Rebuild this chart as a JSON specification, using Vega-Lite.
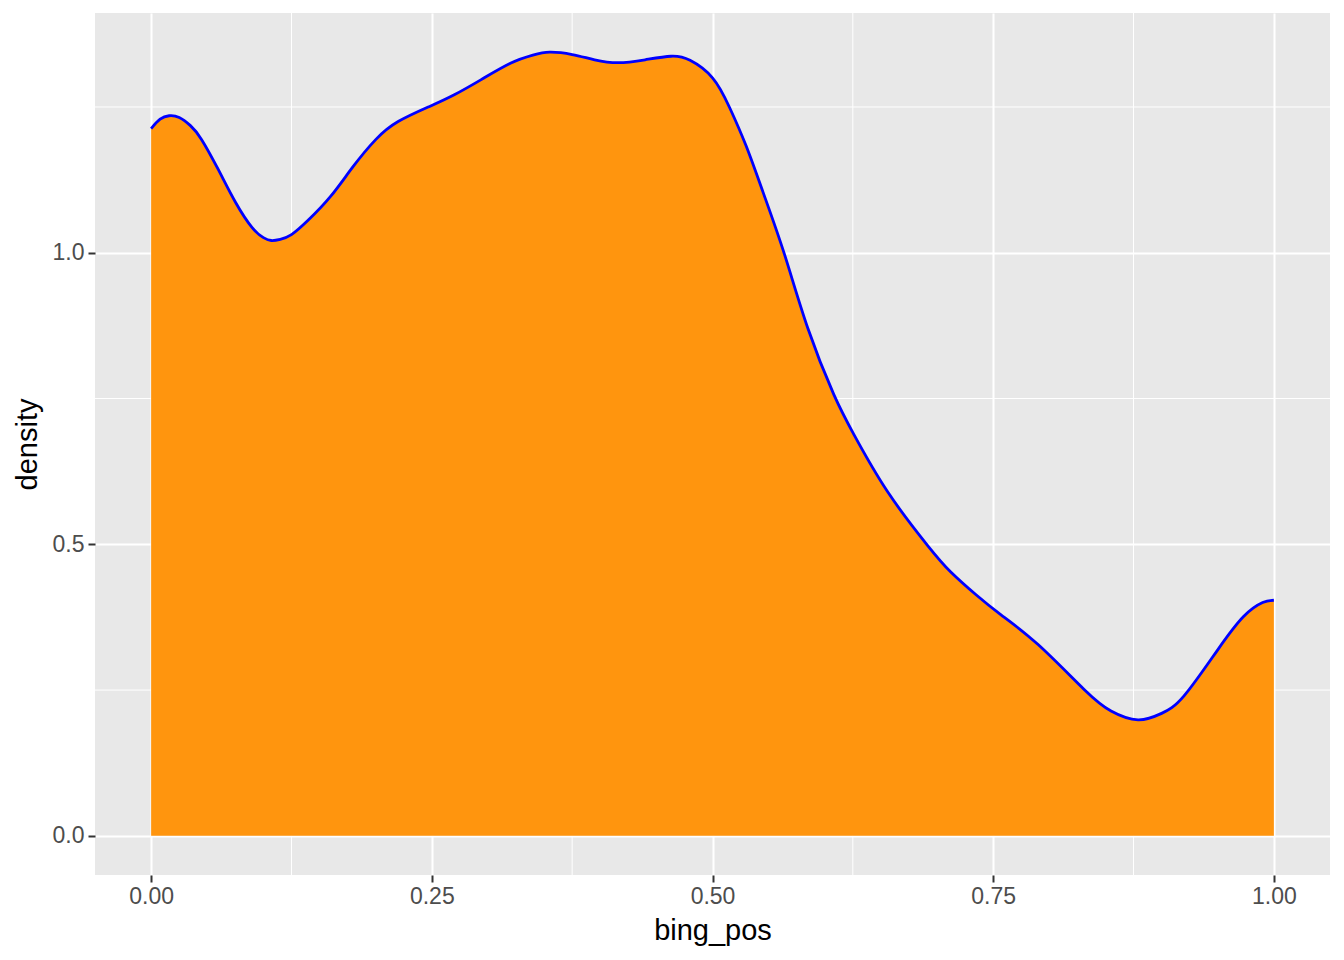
{
  "$schema": "https://vega.github.io/schema/vega-lite/v6.json",
  "autosize": {"type": "none"},
  "padding": {"left": 95, "top": 13, "right": 14, "bottom": 85},
  "width": 1235,
  "height": 862,
  "background": "white",
  "datasets": {
    "dens": [
      {"bing_pos": 0.000, "density": 1.213},
      {"bing_pos": 0.008, "density": 1.229},
      {"bing_pos": 0.016, "density": 1.235},
      {"bing_pos": 0.025, "density": 1.232},
      {"bing_pos": 0.035, "density": 1.218},
      {"bing_pos": 0.045, "density": 1.194},
      {"bing_pos": 0.060, "density": 1.142},
      {"bing_pos": 0.075, "density": 1.087},
      {"bing_pos": 0.090, "density": 1.043},
      {"bing_pos": 0.100, "density": 1.026},
      {"bing_pos": 0.107, "density": 1.021},
      {"bing_pos": 0.115, "density": 1.023},
      {"bing_pos": 0.125, "density": 1.031},
      {"bing_pos": 0.140, "density": 1.056},
      {"bing_pos": 0.160, "density": 1.097},
      {"bing_pos": 0.180, "density": 1.148},
      {"bing_pos": 0.200, "density": 1.194},
      {"bing_pos": 0.220, "density": 1.225},
      {"bing_pos": 0.248, "density": 1.251},
      {"bing_pos": 0.270, "density": 1.271},
      {"bing_pos": 0.294, "density": 1.297},
      {"bing_pos": 0.320, "density": 1.325},
      {"bing_pos": 0.340, "density": 1.339},
      {"bing_pos": 0.355, "density": 1.344},
      {"bing_pos": 0.375, "density": 1.340},
      {"bing_pos": 0.395, "density": 1.331},
      {"bing_pos": 0.416, "density": 1.326},
      {"bing_pos": 0.440, "density": 1.331},
      {"bing_pos": 0.463, "density": 1.337},
      {"bing_pos": 0.480, "density": 1.330},
      {"bing_pos": 0.500, "density": 1.300},
      {"bing_pos": 0.515, "density": 1.250},
      {"bing_pos": 0.530, "density": 1.183},
      {"bing_pos": 0.545, "density": 1.104},
      {"bing_pos": 0.564, "density": 0.998},
      {"bing_pos": 0.585, "density": 0.870},
      {"bing_pos": 0.608, "density": 0.757},
      {"bing_pos": 0.626, "density": 0.688},
      {"bing_pos": 0.656, "density": 0.590},
      {"bing_pos": 0.692, "density": 0.497},
      {"bing_pos": 0.712, "density": 0.453},
      {"bing_pos": 0.735, "density": 0.413},
      {"bing_pos": 0.757, "density": 0.379},
      {"bing_pos": 0.790, "density": 0.328},
      {"bing_pos": 0.831, "density": 0.251},
      {"bing_pos": 0.855, "density": 0.214},
      {"bing_pos": 0.879, "density": 0.199},
      {"bing_pos": 0.900, "density": 0.210},
      {"bing_pos": 0.920, "density": 0.240},
      {"bing_pos": 0.950, "density": 0.319},
      {"bing_pos": 0.973, "density": 0.376},
      {"bing_pos": 0.990, "density": 0.400},
      {"bing_pos": 1.000, "density": 0.404}
    ],
    "minorX": [
      {"bing_pos": 0.125}, {"bing_pos": 0.375}, {"bing_pos": 0.625}, {"bing_pos": 0.875}
    ],
    "minorY": [
      {"density": 0.25}, {"density": 0.75}, {"density": 1.25}
    ]
  },
  "config": {
    "view": {"stroke": null, "fill": "#E8E8E8"},
    "axis": {
      "domain": false,
      "grid": true,
      "gridColor": "#FFFFFF",
      "gridWidth": 2,
      "tickColor": "#333333",
      "tickSize": 7,
      "tickWidth": 2,
      "labelColor": "#4D4D4D",
      "labelFont": "Liberation Sans",
      "labelFontSize": 23,
      "titleFont": "Liberation Sans",
      "titleFontSize": 29,
      "titleFontWeight": "normal",
      "titleColor": "#000000"
    }
  },
  "layer": [
    {
      "data": {"name": "minorX"},
      "mark": {"type": "rule", "color": "#FFFFFF", "strokeWidth": 1},
      "encoding": {
        "x": {"field": "bing_pos", "type": "quantitative"}
      }
    },
    {
      "data": {"name": "minorY"},
      "mark": {"type": "rule", "color": "#FFFFFF", "strokeWidth": 1},
      "encoding": {
        "y": {"field": "density", "type": "quantitative"}
      }
    },
    {
      "data": {"name": "dens"},
      "mark": {"type": "area", "color": "#FF950E", "interpolate": "natural"},
      "encoding": {
        "x": {
          "field": "bing_pos", "type": "quantitative",
          "scale": {"domain": [-0.05, 1.05], "nice": false, "zero": false},
          "axis": {"values": [0, 0.25, 0.5, 0.75, 1], "format": ".2f", "title": "bing_pos", "labelPadding": 3, "titlePadding": 8}
        },
        "y": {
          "field": "density", "type": "quantitative",
          "scale": {"domain": [-0.0672, 1.4112], "nice": false, "zero": false},
          "axis": {"values": [0, 0.5, 1], "format": ".1f", "title": "density", "labelPadding": 4, "titlePadding": 10}
        },
        "y2": {"datum": 0}
      }
    },
    {
      "data": {"name": "dens"},
      "mark": {"type": "line", "color": "#0000FF", "strokeWidth": 2.8, "interpolate": "natural"},
      "encoding": {
        "x": {"field": "bing_pos", "type": "quantitative"},
        "y": {"field": "density", "type": "quantitative"}
      }
    }
  ]
}
